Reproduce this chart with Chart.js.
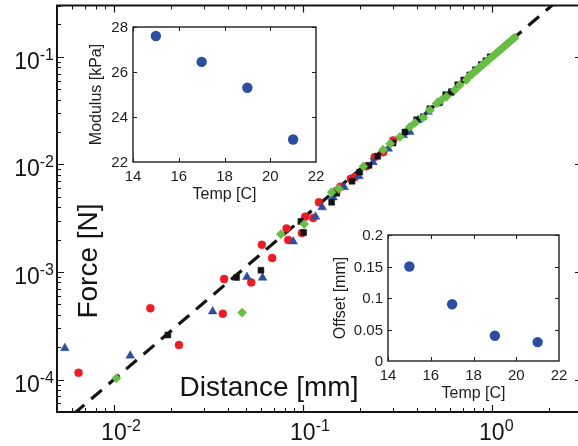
<!DOCTYPE html>
<html>
<head>
<meta charset="utf-8">
<script src="https://cdn.jsdelivr.net/npm/chart.js@4.4.0/dist/chart.umd.min.js"></script>
<style>
  html, body { margin: 0; padding: 0; background: #fff; overflow: hidden; }
  #wrap { position: relative; width: 578px; height: 446px; overflow: hidden; }
  canvas { position: absolute; }
</style>
</head>
<body>
<div id="wrap">
  <canvas id="mainChart" width="600" height="446" style="left:0;top:0"></canvas>
  <canvas id="modulusChart" width="260" height="210" style="left:70px;top:0"></canvas>
  <canvas id="offsetChart" width="258" height="195" style="left:320px;top:215px"></canvas>
</div>
<script>
// main plot data (distance in mm, force in N)
const redDistance = [0.0065, 0.0156, 0.0221, 0.0377, 0.0383, 0.0533, 0.0607, 0.0688, 0.082, 0.0836, 0.0988, 0.1028, 0.1134, 0.1216, 0.151, 0.158, 0.1795, 0.188, 0.217, 0.24, 0.266, 0.30];
const redForce = [1.16e-4, 4.6e-4, 2.1e-4, 4.1e-4, 8.6e-4, 8.0e-4, 1.79e-3, 1.35e-3, 2.54e-3, 1.98e-3, 2.3e-3, 3.27e-3, 3.18e-3, 4.45e-3, 5.7e-3, 6.2e-3, 7.35e-3, 7.6e-3, 9.6e-3, 1.17e-2, 1.30e-2, 1.67e-2];

const blackDistance = [0.0193, 0.0446, 0.060, 0.0976, 0.101, 0.142, 0.151, 0.182, 0.20, 0.224, 0.249, 0.30, 0.347, 0.40, 0.433, 0.47, 0.531, 0.57, 0.612, 0.66, 0.71, 0.765, 0.82, 0.88, 0.93, 0.98];
const blackForce = [2.6e-4, 8.9e-4, 1.04e-3, 2.95e-3, 2.33e-3, 4.45e-3, 5.4e-3, 6.98e-3, 8.5e-3, 9.8e-3, 1.19e-2, 1.58e-2, 2.0e-2, 2.6e-2, 2.77e-2, 3.3e-2, 3.82e-2, 4.45e-2, 4.74e-2, 5.5e-2, 6.1e-2, 6.8e-2, 7.6e-2, 8.5e-2, 9.2e-2, 0.1];

const blueDistance = [0.0055, 0.0122, 0.0333, 0.0506, 0.0612, 0.0889, 0.1167, 0.1265, 0.1446, 0.1655, 0.198, 0.235, 0.283, 0.34, 0.368, 0.407, 0.46, 0.52, 0.60];
const blueForce = [1.96e-4, 1.67e-4, 4.3e-4, 9.0e-4, 8.85e-4, 1.92e-3, 3.27e-3, 3.99e-3, 4.94e-3, 6.14e-3, 7.78e-3, 1.05e-2, 1.40e-2, 1.87e-2, 2.0e-2, 2.58e-2, 3.08e-2, 3.69e-2, 4.58e-2];

const greenDistance = [0.0103, 0.0477, 0.0765, 0.1016, 0.142, 0.155, 0.209, 0.266, 0.29, 0.326, 0.368, 0.392, 0.433, 0.47, 0.51, 0.54, 0.575, 0.637, 0.677, 0.734,
  0.76, 0.78, 0.80, 0.82, 0.84, 0.86, 0.88, 0.90, 0.93, 0.96, 0.99, 1.02, 1.05, 1.08, 1.11, 1.14, 1.17, 1.20, 1.23, 1.26, 1.29, 1.32];
const greenForce = [1.03e-4, 4.2e-4, 2.25e-3, 2.79e-3, 5.5e-3, 5.93e-3, 9.57e-3, 1.37e-2, 1.56e-2, 1.80e-2, 2.23e-2, 2.43e-2, 2.73e-2, 3.2e-2, 3.69e-2, 3.97e-2, 4.26e-2, 4.92e-2, 5.47e-2, 6.1e-2,
  0.066, 0.0685, 0.0712, 0.0738, 0.0765, 0.0793, 0.082, 0.0848, 0.0891, 0.0935, 0.0981, 0.1025, 0.107, 0.1118, 0.1163, 0.121, 0.126, 0.131, 0.1358, 0.141, 0.146, 0.151];

// dashed fit line end points
const fitDistance = [0.004, 3];
const fitForce = [2.53e-5, 0.52];

// main axis ticks
const xMajor = [0.01, 0.1, 1];
const xExp = ['-2', '-1', '0'];
const yMajor = [1e-4, 1e-3, 1e-2, 1e-1];
const yExp = ['-4', '-3', '-2', '-1'];

// insets
const temps = [15, 17, 19, 21];
const modulus = [27.6, 26.45, 25.3, 23.0];
const offset = [0.15, 0.09, 0.04, 0.03];
const tempTicks = [14, 16, 18, 20, 22];
const modulusTicks = [22, 24, 26, 28];
const offsetTicks = [0, 0.05, 0.1, 0.15, 0.2];
const offsetTickLabels = ['0', '0.05', '0.1', '0.15', '0.2'];

const FONT = '"Liberation Sans", Arial, Helvetica, sans-serif';
const RED = '#ec1c24';
const BLACK = '#141414';
const BLUE = '#2d4e9f';
const GREEN = '#68bd45';

function toPoints(xs, ys) {
  return xs.map((x, i) => ({ x: x, y: ys[i] }));
}

function minorTicks(min, max) {
  const out = [];
  for (let e = Math.floor(Math.log10(min)); e <= Math.ceil(Math.log10(max)); e++) {
    for (let m = 2; m <= 9; m++) {
      const v = Number((m * Math.pow(10, e)).toPrecision(3));
      if (v >= min && v <= max) out.push(v);
    }
  }
  return out;
}

function tickMarks(chart, xVals, yVals, len) {
  const { ctx, chartArea: a, scales } = chart;
  ctx.beginPath();
  xVals.forEach(v => {
    const p = Math.round(scales.x.getPixelForValue(v)) + 0.5;
    if (p < a.left || p > a.right) return;
    ctx.moveTo(p, a.bottom); ctx.lineTo(p, a.bottom - len);
    ctx.moveTo(p, a.top); ctx.lineTo(p, a.top + len);
  });
  yVals.forEach(v => {
    const p = Math.round(scales.y.getPixelForValue(v)) + 0.5;
    if (p < a.top || p > a.bottom) return;
    ctx.moveTo(a.left, p); ctx.lineTo(a.left + len, p);
    ctx.moveTo(a.right, p); ctx.lineTo(a.right - len, p);
  });
  ctx.stroke();
}

const mainAxes = {
  id: 'mainAxes',
  afterDraw(chart) {
    const { ctx, chartArea: a, scales: { x, y } } = chart;
    ctx.save();
    ctx.strokeStyle = BLACK;
    ctx.lineWidth = 1;
    tickMarks(chart, minorTicks(x.min, x.max), minorTicks(y.min, y.max), 4);
    ctx.lineWidth = 1.2;
    tickMarks(chart, xMajor, yMajor, 7);
    ctx.lineWidth = 2;
    ctx.strokeRect(a.left, a.top, a.right - a.left, a.bottom - a.top);

    ctx.fillStyle = BLACK;
    ctx.textAlign = 'left';
    ctx.textBaseline = 'alphabetic';
    // y tick labels 10^n
    yMajor.forEach((v, i) => {
      const p = y.getPixelForValue(v);
      ctx.font = '16px ' + FONT;
      const we = ctx.measureText(yExp[i]).width;
      ctx.font = '23px ' + FONT;
      const wb = ctx.measureText('10').width;
      ctx.fillText('10', 54 - we - wb, p + 12);
      ctx.font = '16px ' + FONT;
      ctx.fillText(yExp[i], 54 - we, p + 3);
    });
    // x tick labels 10^n
    xMajor.forEach((v, i) => {
      const p = x.getPixelForValue(v);
      ctx.font = '23px ' + FONT;
      const wb = ctx.measureText('10').width;
      ctx.fillText('10', p - wb / 2, 440);
      ctx.font = '16px ' + FONT;
      ctx.fillText(xExp[i], p + wb / 2, 431);
    });
    // axis titles
    ctx.font = '28px ' + FONT;
    ctx.textAlign = 'center';
    ctx.fillText('Distance [mm]', 269, 396);
    ctx.translate(97, 261);
    ctx.rotate(-Math.PI / 2);
    ctx.fillText('Force [N]', 0, 0);
    ctx.restore();
  }
};

function insetAxes(yTickVals, yTickText, xTitle, yTitle, yTitleOffset) {
  return {
    id: 'insetAxes',
    beforeDatasetsDraw(chart) {
      const { ctx, chartArea: a } = chart;
      ctx.save();
      ctx.fillStyle = '#fff';
      ctx.fillRect(a.left, a.top, a.right - a.left, a.bottom - a.top);
      ctx.restore();
    },
    afterDraw(chart) {
      const { ctx, chartArea: a, scales: { x, y } } = chart;
      ctx.save();
      ctx.strokeStyle = '#1e1e1e';
      ctx.lineWidth = 1;
      tickMarks(chart, tempTicks, yTickVals, 4);
      ctx.lineWidth = 1.4;
      ctx.strokeRect(a.left, a.top, a.right - a.left, a.bottom - a.top);

      ctx.fillStyle = '#1e1e1e';
      ctx.font = '15px ' + FONT;
      ctx.textAlign = 'center';
      ctx.textBaseline = 'alphabetic';
      tempTicks.forEach(v => ctx.fillText(String(v), x.getPixelForValue(v), a.bottom + 19));
      ctx.textAlign = 'right';
      ctx.textBaseline = 'middle';
      yTickVals.forEach((v, i) => ctx.fillText(yTickText[i], a.left - 5, y.getPixelForValue(v) + 1));

      ctx.font = '16px ' + FONT;
      ctx.textAlign = 'center';
      ctx.textBaseline = 'alphabetic';
      ctx.fillText(xTitle, (a.left + a.right) / 2, a.bottom + 37);
      ctx.translate(a.left - yTitleOffset, (a.top + a.bottom) / 2);
      ctx.rotate(-Math.PI / 2);
      ctx.fillText(yTitle, 0, 0);
      ctx.restore();
    }
  };
}

const noExtras = { legend: { display: false }, tooltip: { enabled: false } };

new Chart(document.getElementById('mainChart'), {
  type: 'scatter',
  data: {
    datasets: [
      { label: 'fit', type: 'line', data: toPoints(fitDistance, fitForce), borderColor: BLACK, borderWidth: 3.2,
        borderDash: [14, 9], borderCapStyle: 'butt', pointRadius: 0, fill: false, order: 5 },
      { label: 'red', data: toPoints(redDistance, redForce), pointStyle: 'circle', pointRadius: 4,
        backgroundColor: RED, borderColor: RED, borderWidth: 0.5, order: 4 },
      { label: 'blue', data: toPoints(blueDistance, blueForce), pointStyle: 'triangle', pointRadius: 5,
        backgroundColor: BLUE, borderColor: BLUE, borderWidth: 0.5, order: 3 },
      { label: 'black', data: toPoints(blackDistance, blackForce), pointStyle: 'rect', pointRadius: 4.2,
        backgroundColor: BLACK, borderColor: BLACK, borderWidth: 0.5, order: 2 },
      { label: 'green', data: toPoints(greenDistance, greenForce), pointStyle: 'rectRot', pointRadius: 4.6,
        backgroundColor: GREEN, borderColor: GREEN, borderWidth: 0.5, order: 1 }
    ]
  },
  options: {
    responsive: false,
    animation: false,
    layout: { padding: { left: 57, top: 5, right: 18, bottom: 34 } },
    scales: {
      x: { type: 'logarithmic', min: 0.005, max: 3, display: false },
      y: { type: 'logarithmic', min: 5e-5, max: 0.3, display: false }
    },
    plugins: noExtras
  },
  plugins: [mainAxes]
});

new Chart(document.getElementById('modulusChart'), {
  type: 'scatter',
  data: {
    datasets: [{ data: toPoints(temps, modulus), pointRadius: 5.2, backgroundColor: BLUE, borderColor: BLUE, borderWidth: 0 }]
  },
  options: {
    responsive: false,
    animation: false,
    layout: { padding: { left: 63, top: 27, right: 14, bottom: 48 } },
    scales: {
      x: { type: 'linear', min: 14, max: 22, display: false },
      y: { type: 'linear', min: 22, max: 28, display: false }
    },
    plugins: noExtras
  },
  plugins: [insetAxes(modulusTicks, modulusTicks.map(String), 'Temp [C]', 'Modulus [kPa]', 32)]
});

new Chart(document.getElementById('offsetChart'), {
  type: 'scatter',
  data: {
    datasets: [{ data: toPoints(temps, offset), pointRadius: 5.2, backgroundColor: BLUE, borderColor: BLUE, borderWidth: 0 }]
  },
  options: {
    responsive: false,
    animation: false,
    layout: { padding: { left: 68, top: 20, right: 19, bottom: 49 } },
    scales: {
      x: { type: 'linear', min: 14, max: 22, display: false },
      y: { type: 'linear', min: 0, max: 0.2, display: false }
    },
    plugins: noExtras
  },
  plugins: [insetAxes(offsetTicks, offsetTickLabels, 'Temp [C]', 'Offset [mm]', 43)]
});
</script>
</body>
</html>
